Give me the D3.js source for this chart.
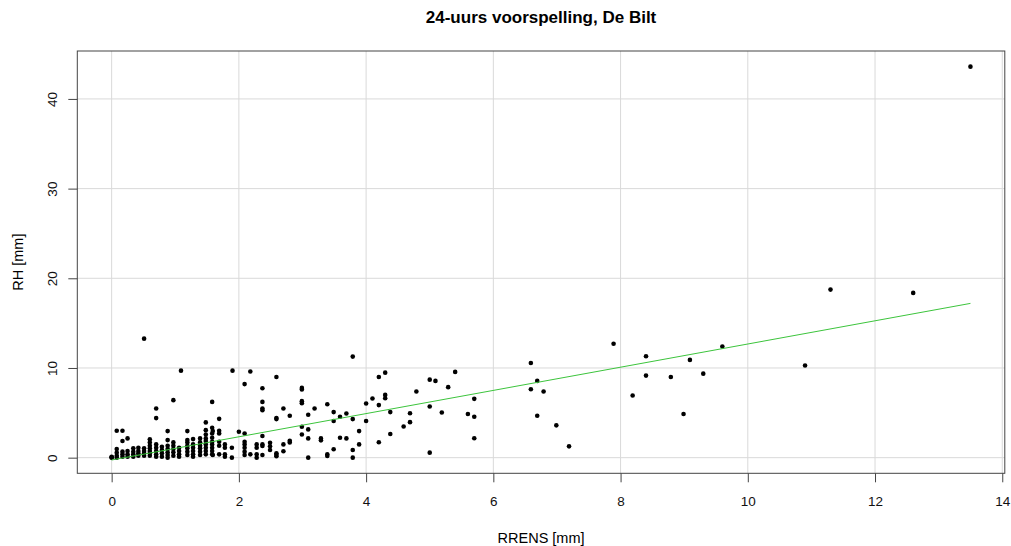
<!DOCTYPE html>
<html>
<head>
<meta charset="utf-8">
<script src="https://cdn.jsdelivr.net/npm/d3@7"></script>
<style>
  body { margin: 0; background: #fff; }
  svg { font-family: "Liberation Sans", Arial, sans-serif; }
</style>
</head>
<body>
<div id="chart"></div>
<script>
var rrens = [
  0.0, 0.0, 0.0,
  0.08, 0.08, 0.08, 0.08, 0.08,
  0.17, 0.17, 0.17, 0.17, 0.17,
  0.25, 0.25, 0.25, 0.25,
  0.34, 0.34, 0.34, 0.34,
  0.42, 0.42, 0.42, 0.42,
  0.51, 0.51, 0.51, 0.51, 0.51,
  0.6, 0.6, 0.6, 0.6, 0.6, 0.6, 0.6,
  0.7, 0.7, 0.7, 0.7, 0.7, 0.7, 0.7,
  0.79, 0.79, 0.79, 0.79,
  0.88, 0.88, 0.88, 0.88, 0.88, 0.88, 0.88,
  0.97, 0.97, 0.97, 0.97, 0.97, 0.97,
  1.06, 1.06, 1.06, 1.06, 1.09,
  1.19, 1.19, 1.19, 1.19, 1.19, 1.19, 1.19,
  1.28, 1.28, 1.28, 1.28, 1.28, 1.28,
  1.39, 1.39, 1.39, 1.39, 1.39, 1.39,
  1.48, 1.48, 1.48, 1.48, 1.48, 1.48, 1.48, 1.48, 1.48,
  1.58, 1.58, 1.58, 1.58, 1.58, 1.58, 1.58, 1.58, 1.58,
  1.59, 1.59,
  1.69, 1.69, 1.69, 1.69, 1.69, 1.69,
  1.78, 1.78, 1.78, 1.78,
  1.89, 1.89, 1.9,
  2.0,
  2.09, 2.09, 2.09, 2.09, 2.09, 2.09, 2.09,
  2.18, 2.18,
  2.28, 2.28, 2.28, 2.28,
  2.37, 2.37, 2.37, 2.37, 2.37, 2.37, 2.37, 2.37,
  2.49, 2.49, 2.49,
  2.59, 2.59, 2.59, 2.59, 2.59, 2.59,
  2.7, 2.7, 2.7,
  2.8, 2.8, 2.8,
  2.99, 2.99, 2.99, 2.99, 2.99, 2.99,
  3.09, 3.09, 3.09, 3.09,
  3.19,
  3.29, 3.29,
  3.39, 3.39, 3.39,
  3.49, 3.49, 3.49,
  3.59, 3.59,
  3.69, 3.69,
  3.79, 3.79, 3.79, 3.79,
  3.89, 3.89,
  4.0, 4.0,
  4.1,
  4.2, 4.2, 4.2,
  4.3, 4.3, 4.3,
  4.38, 4.38,
  4.59,
  4.69, 4.69,
  4.79,
  5.0, 5.0, 5.0,
  5.09, 5.19, 5.29, 5.4,
  5.6,
  5.7, 5.7, 5.7,
  6.59, 6.59,
  6.69, 6.69,
  6.79, 6.99, 7.19,
  7.89, 8.19, 8.4, 8.4, 8.79, 8.99, 9.09, 9.3, 9.6,
  10.9, 11.3, 12.6, 13.5
];
var rh = [
  0.1, 0.0, 0.05,
  3.0, 0.96, 0.56, 0.22, 0.0,
  3.0, 1.85, 0.67, 0.37, 0.1,
  2.15, 0.74, 0.37, 0.1,
  1.04, 0.67, 0.37, 0.1,
  1.11, 0.74, 0.48, 0.22,
  13.27, 1.04, 0.74, 0.48, 0.22,
  2.04, 1.7, 1.33, 1.04, 0.74, 0.48, 0.22,
  5.48, 4.41, 1.48, 1.11, 0.74, 0.37, 0.11,
  1.22, 0.85, 0.48, 0.11,
  2.96, 1.96, 1.33, 0.96, 0.59, 0.3, 0.0,
  6.41, 1.7, 1.33, 0.96, 0.59, 0.22,
  1.11, 0.74, 0.37, 0.11, 9.7,
  2.96, 1.96, 1.7, 1.33, 1.04, 0.67, 0.3,
  2.07, 1.48, 1.11, 0.74, 0.37, 0.11,
  2.15, 1.7, 1.33, 1.04, 0.67, 0.3,
  3.93, 3.07, 2.59, 2.15, 1.85, 1.48, 1.11, 0.74, 0.37,
  6.22, 3.33, 2.7, 2.22, 1.78, 1.48, 1.11, 0.74, 0.37,
  2.96, 0.3,
  4.33, 3.0, 2.7, 1.78, 1.33, 0.37,
  1.48, 1.11, 0.37, 0.1,
  1.11, 0.0, 9.7,
  2.89,
  8.2, 2.7, 1.78, 1.48, 1.11, 0.67, 0.3,
  9.6, 0.37,
  1.48, 1.11, 0.37, 0.0,
  7.74, 6.22, 5.48, 5.3, 2.41, 1.48, 1.3, 0.3,
  1.67, 1.26, 0.85,
  9.0, 4.41, 4.3, 0.5, 0.33, 0.15,
  5.48, 1.48, 0.72,
  4.67, 1.89, 1.7,
  7.78, 7.6, 6.3, 6.08, 3.44, 2.59,
  4.78, 3.15, 2.15, 0.0,
  5.48,
  2.15, 1.93,
  5.96, 0.37, 0.19,
  5.08, 4.08, 0.93,
  4.56, 2.22,
  4.93, 2.15,
  11.27, 4.3, 0.85, 0.0,
  2.96, 1.48,
  6.04, 4.08,
  6.6,
  9.0, 5.86, 1.71,
  9.48, 7.0, 6.63,
  5.08, 2.63,
  3.48,
  4.96, 3.96,
  7.37,
  8.7, 5.71, 0.56,
  8.56, 5.04, 7.86, 9.56,
  4.86,
  6.56, 4.56, 2.16,
  10.56, 7.63,
  8.56, 4.67,
  7.37, 3.6, 1.26,
  12.7, 6.93, 11.3, 9.15, 9.0, 4.86, 10.9, 9.37, 12.4,
  10.27, 18.74, 18.37, 43.6
];
// regression line (lm) end points as drawn
var fitX = [0, 13.5];
var fitY = [-0.26, 17.2];
var xTicks = [0, 2, 4, 6, 8, 10, 12, 14];
var yTicks = [0, 10, 20, 30, 40];

var W = 1011, H = 546;
var box = {left: 77.3, right: 1004.8, top: 51, bottom: 473.3};

var svg = d3.select("#chart").append("svg")
    .attr("width", W).attr("height", H);

// R style: data range extended by 4% on each side
var xr = d3.extent(rrens), yr = d3.extent(rh);
var xPad = (xr[1] - xr[0]) * 0.04, yPad = (yr[1] - yr[0]) * 0.04;

var x = d3.scaleLinear()
    .domain([xr[0] - xPad, xr[1] + xPad])
    .range([box.left, box.right]);
var y = d3.scaleLinear()
    .domain([yr[0] - yPad, yr[1] + yPad])
    .range([box.bottom, box.top]);

// grid
svg.append("g").selectAll("line")
    .data(xTicks).enter().append("line")
    .attr("x1", function(d){ return x(d); })
    .attr("x2", function(d){ return x(d); })
    .attr("y1", box.top).attr("y2", box.bottom)
    .attr("stroke", "#d9d9d9").attr("stroke-width", 1);
svg.append("g").selectAll("line")
    .data(yTicks).enter().append("line")
    .attr("y1", function(d){ return y(d); })
    .attr("y2", function(d){ return y(d); })
    .attr("x1", box.left).attr("x2", box.right)
    .attr("stroke", "#d9d9d9").attr("stroke-width", 1);

// points
svg.append("g").selectAll("circle")
    .data(rrens).enter().append("circle")
    .attr("cx", function(d){ return x(d); })
    .attr("cy", function(d, i){ return y(rh[i]); })
    .attr("r", 2.3)
    .attr("fill", "#000");

// fitted line
svg.append("line")
    .attr("x1", x(fitX[0])).attr("y1", y(fitY[0]))
    .attr("x2", x(fitX[1])).attr("y2", y(fitY[1]))
    .attr("stroke", "#3cc43c").attr("stroke-width", 1);

// box
svg.append("rect")
    .attr("x", box.left).attr("y", box.top)
    .attr("width", box.right - box.left).attr("height", box.bottom - box.top)
    .attr("fill", "none").attr("stroke", "#444").attr("stroke-width", 1);

// axes
var xAxis = svg.append("g")
    .attr("transform", "translate(0," + box.bottom + ")")
    .call(d3.axisBottom(x).tickValues(xTicks).tickSize(9).tickFormat(d3.format("d")));
xAxis.select(".domain").remove();
xAxis.selectAll("line").attr("stroke", "#444");
xAxis.selectAll("text")
    .attr("y", 33).attr("dy", 0)
    .attr("font-size", 13.5).attr("fill", "#111")
    .attr("font-family", "Liberation Sans, Arial, sans-serif");

var yAxis = svg.append("g")
    .attr("transform", "translate(" + box.left + ",0)")
    .call(d3.axisLeft(y).tickValues(yTicks).tickSize(9).tickFormat(d3.format("d")));
yAxis.select(".domain").remove();
yAxis.selectAll("line").attr("stroke", "#444");
yAxis.selectAll("text")
    .attr("x", 0).attr("dy", 0)
    .attr("transform", "translate(-20,0) rotate(-90)")
    .attr("text-anchor", "middle")
    .attr("font-size", 13.5).attr("fill", "#111")
    .attr("font-family", "Liberation Sans, Arial, sans-serif");

// title and labels
svg.append("text")
    .attr("x", (box.left + box.right) / 2).attr("y", 23)
    .attr("text-anchor", "middle")
    .attr("font-size", 17).attr("font-weight", "bold")
    .text("24-uurs voorspelling, De Bilt");

svg.append("text")
    .attr("x", (box.left + box.right) / 2).attr("y", 543)
    .attr("text-anchor", "middle")
    .attr("font-size", 14.5)
    .text("RRENS [mm]");

svg.append("text")
    .attr("transform", "translate(23," + ((box.top + box.bottom) / 2) + ") rotate(-90)")
    .attr("text-anchor", "middle")
    .attr("font-size", 14.5)
    .text("RH [mm]");
</script>
</body>
</html>
